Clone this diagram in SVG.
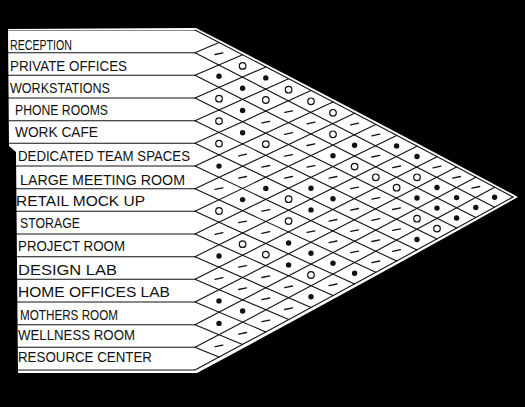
<svg xmlns="http://www.w3.org/2000/svg" width="525" height="407" viewBox="0 0 525 407">
<style>
.ln{stroke:#111;stroke-width:1.1;fill:none;stroke-linecap:round}
.rl{stroke:#111;stroke-width:1.1;fill:none}
.lb{font-family:"Liberation Sans",Arial,sans-serif;font-size:15.5px;fill:#111}
.dot{fill:#111}
.oc{fill:#fff;stroke:#111;stroke-width:1.2}
.ds{stroke:#111;stroke-width:1.3;stroke-linecap:round}
</style>
<defs>
<circle id="f" r="2.7" class="dot"/>
<circle id="o" r="3.3" class="oc"/>
<line id="m" x1="-3.9" y1="0.8" x2="3.9" y2="-0.8" class="ds"/>
</defs>
<rect width="525" height="407" fill="#000"/>
<path id="paper" d="M8,29 L196,28 Q378,121.5 518,197 Q378,275.5 197,373 L18,373 L16,152 L9,146 Z" fill="#fff"/>
<line x1="8" y1="30.5" x2="195" y2="30.5" stroke="#888" stroke-width="1"/>

<g id="rows">
<g id="row-reception"><text class="lb" x="10" y="50" textLength="62" lengthAdjust="spacingAndGlyphs">RECEPTION</text><line class="rl" x1="8" y1="52.7" x2="195" y2="52.7"/></g>
<g id="row-private-offices"><text class="lb" x="10" y="71" textLength="117" lengthAdjust="spacingAndGlyphs">PRIVATE OFFICES</text><line class="rl" x1="8" y1="75.3" x2="195" y2="75.3"/></g>
<g id="row-workstations"><text class="lb" x="10" y="93" textLength="100" lengthAdjust="spacingAndGlyphs">WORKSTATIONS</text><line class="rl" x1="8" y1="98" x2="195" y2="98"/></g>
<g id="row-phone-rooms"><text class="lb" x="15" y="115" textLength="93" lengthAdjust="spacingAndGlyphs">PHONE ROOMS</text><line class="rl" x1="9" y1="120.7" x2="195" y2="120.7"/></g>
<g id="row-work-cafe"><text class="lb" x="15" y="137" textLength="83" lengthAdjust="spacingAndGlyphs">WORK CAFE</text><line class="rl" x1="9" y1="143.3" x2="195" y2="143.3"/></g>
<g id="row-dedicated-team-spaces"><text class="lb" x="18" y="161" textLength="172" lengthAdjust="spacingAndGlyphs">DEDICATED TEAM SPACES</text><line class="rl" x1="16" y1="166" x2="195" y2="166"/></g>
<g id="row-large-meeting-room"><text class="lb" x="20" y="185" textLength="165" lengthAdjust="spacingAndGlyphs">LARGE MEETING ROOM</text><line class="rl" x1="16" y1="188.7" x2="195" y2="188.7"/></g>
<g id="row-retail-mock-up"><text class="lb" x="16" y="206" textLength="129" lengthAdjust="spacingAndGlyphs">RETAIL MOCK UP</text><line class="rl" x1="16" y1="211.3" x2="195" y2="211.3"/></g>
<g id="row-storage"><text class="lb" x="20" y="228" textLength="60" lengthAdjust="spacingAndGlyphs">STORAGE</text><line class="rl" x1="16" y1="234" x2="195" y2="234"/></g>
<g id="row-project-room"><text class="lb" x="18" y="251" textLength="107" lengthAdjust="spacingAndGlyphs">PROJECT ROOM</text><line class="rl" x1="16" y1="256.7" x2="195" y2="256.7"/></g>
<g id="row-design-lab"><text class="lb" x="18" y="275" textLength="99" lengthAdjust="spacingAndGlyphs">DESIGN LAB</text><line class="rl" x1="17" y1="279.3" x2="195" y2="279.3"/></g>
<g id="row-home-offices-lab"><text class="lb" x="18" y="297" textLength="152" lengthAdjust="spacingAndGlyphs">HOME OFFICES LAB</text><line class="rl" x1="17" y1="302" x2="195" y2="302"/></g>
<g id="row-mothers-room"><text class="lb" x="20" y="320" textLength="98" lengthAdjust="spacingAndGlyphs">MOTHERS ROOM</text><line class="rl" x1="17" y1="324.7" x2="195" y2="324.7"/></g>
<g id="row-wellness-room"><text class="lb" x="18" y="340" textLength="117" lengthAdjust="spacingAndGlyphs">WELLNESS ROOM</text><line class="rl" x1="17" y1="347.3" x2="195" y2="347.3"/></g>
<g id="row-resource-center"><text class="lb" x="18" y="362" textLength="134" lengthAdjust="spacingAndGlyphs">RESOURCE CENTER</text><line class="rl" x1="18" y1="370" x2="195" y2="370"/></g>
</g>

<g id="connectors">
<path class="ln" d="M195,30 Q376.5,124.3 513,197"/>
<path class="ln" d="M195,52.7 Q364.4,139.4 494.6,207.2"/>
<path class="ln" d="M195,75.3 Q352.3,154.6 475.8,217.6"/>
<path class="ln" d="M195,98 Q340.2,170 456.6,228.1"/>
<path class="ln" d="M195,120.7 Q328.1,185.6 437,238.9"/>
<path class="ln" d="M195,143.3 Q316,201.4 417,249.9"/>
<path class="ln" d="M195,166 Q303.9,217.4 396.6,261"/>
<path class="ln" d="M195,188.7 Q291.8,233.6 375.8,272.3"/>
<path class="ln" d="M195,211.3 Q279.7,250 354.6,283.9"/>
<path class="ln" d="M195,234 Q267.6,266.5 333,295.6"/>
<path class="ln" d="M195,256.7 Q255.5,283.3 311,307.5"/>
<path class="ln" d="M195,279.3 Q243.4,300.3 288.6,319.6"/>
<path class="ln" d="M195,302 Q231.3,317.4 265.8,331.9"/>
<path class="ln" d="M195,324.7 Q219.2,334.7 242.6,344.4"/>
<path class="ln" d="M195,347.3 Q207.1,352.3 219,357.1"/>
<path class="ln" d="M195,52.7 Q207.1,47.5 219,42.5"/>
<path class="ln" d="M195,75.3 Q219.2,64.9 242.6,54.8"/>
<path class="ln" d="M195,98 Q231.3,82 265.8,66.9"/>
<path class="ln" d="M195,120.7 Q243.4,99 288.6,78.8"/>
<path class="ln" d="M195,143.3 Q255.5,115.7 311,90.5"/>
<path class="ln" d="M195,166 Q267.6,132.3 333,102"/>
<path class="ln" d="M195,188.7 Q279.7,148.6 354.6,113.3"/>
<path class="ln" d="M195,211.3 Q291.8,164.8 375.8,124.5"/>
<path class="ln" d="M195,234 Q303.9,180.8 396.6,135.4"/>
<path class="ln" d="M195,256.7 Q316,196.6 417,146.2"/>
<path class="ln" d="M195,279.3 Q328.1,212.2 437,156.7"/>
<path class="ln" d="M195,302 Q340.2,227.6 456.6,167.1"/>
<path class="ln" d="M195,324.7 Q352.3,242.8 475.8,177.2"/>
<path class="ln" d="M195,347.3 Q364.4,257.8 494.6,187.2"/>
<path class="ln" d="M195,370 Q376.5,272.7 513,197"/>
</g>

<g id="cells">
<use href="#m" x="219" y="53.7"/>
<use href="#f" x="219" y="76.2"/>
<use href="#o" x="219" y="98.7"/>
<use href="#o" x="219" y="121.1"/>
<use href="#o" x="219" y="143.6"/>
<use href="#f" x="219" y="166.1"/>
<use href="#m" x="219" y="188.6"/>
<use href="#o" x="219" y="211"/>
<use href="#m" x="219" y="233.5"/>
<use href="#f" x="219" y="256"/>
<use href="#m" x="219" y="278.5"/>
<use href="#f" x="219" y="300.9"/>
<use href="#f" x="219" y="323.4"/>
<use href="#m" x="219" y="345.9"/>

<use href="#o" x="242.6" y="65.9"/>
<use href="#f" x="242.6" y="88.2"/>
<use href="#f" x="242.6" y="110.5"/>
<use href="#f" x="242.6" y="132.8"/>
<use href="#m" x="242.6" y="155"/>
<use href="#m" x="242.6" y="177.3"/>
<use href="#f" x="242.6" y="199.6"/>
<use href="#m" x="242.6" y="221.9"/>
<use href="#o" x="242.6" y="244.2"/>
<use href="#m" x="242.6" y="266.4"/>
<use href="#m" x="242.6" y="288.7"/>
<use href="#f" x="242.6" y="311"/>
<use href="#m" x="242.6" y="333.3"/>

<use href="#f" x="265.8" y="77.9"/>
<use href="#o" x="265.8" y="100"/>
<use href="#m" x="265.8" y="122.1"/>
<use href="#o" x="265.8" y="144.2"/>
<use href="#m" x="265.8" y="166.3"/>
<use href="#f" x="265.8" y="188.4"/>
<use href="#m" x="265.8" y="210.4"/>
<use href="#m" x="265.8" y="232.5"/>
<use href="#o" x="265.8" y="254.6"/>
<use href="#m" x="265.8" y="276.7"/>
<use href="#m" x="265.8" y="298.8"/>
<use href="#m" x="265.8" y="320.9"/>

<use href="#o" x="288.6" y="89.7"/>
<use href="#m" x="288.6" y="111.6"/>
<use href="#m" x="288.6" y="133.5"/>
<use href="#m" x="288.6" y="155.4"/>
<use href="#m" x="288.6" y="177.3"/>
<use href="#o" x="288.6" y="199.2"/>
<use href="#o" x="288.6" y="221.1"/>
<use href="#f" x="288.6" y="243"/>
<use href="#f" x="288.6" y="264.9"/>
<use href="#m" x="288.6" y="286.8"/>
<use href="#m" x="288.6" y="308.7"/>

<use href="#o" x="311" y="101.3"/>
<use href="#m" x="311" y="123"/>
<use href="#m" x="311" y="144.7"/>
<use href="#m" x="311" y="166.4"/>
<use href="#f" x="311" y="188.2"/>
<use href="#f" x="311" y="209.9"/>
<use href="#m" x="311" y="231.6"/>
<use href="#f" x="311" y="253.3"/>
<use href="#o" x="311" y="275"/>
<use href="#f" x="311" y="296.7"/>

<use href="#o" x="333" y="112.8"/>
<use href="#o" x="333" y="134.3"/>
<use href="#f" x="333" y="155.8"/>
<use href="#m" x="333" y="177.3"/>
<use href="#f" x="333" y="198.8"/>
<use href="#m" x="333" y="220.3"/>
<use href="#m" x="333" y="241.8"/>
<use href="#f" x="333" y="263.3"/>
<use href="#m" x="333" y="284.8"/>

<use href="#m" x="354.6" y="124"/>
<use href="#f" x="354.6" y="145.3"/>
<use href="#o" x="354.6" y="166.6"/>
<use href="#m" x="354.6" y="187.9"/>
<use href="#m" x="354.6" y="209.3"/>
<use href="#m" x="354.6" y="230.6"/>
<use href="#m" x="354.6" y="251.9"/>
<use href="#f" x="354.6" y="273.2"/>

<use href="#m" x="375.8" y="135"/>
<use href="#m" x="375.8" y="156.2"/>
<use href="#o" x="375.8" y="177.3"/>
<use href="#m" x="375.8" y="198.4"/>
<use href="#m" x="375.8" y="219.5"/>
<use href="#m" x="375.8" y="240.7"/>
<use href="#m" x="375.8" y="261.8"/>

<use href="#f" x="396.6" y="145.9"/>
<use href="#m" x="396.6" y="166.8"/>
<use href="#o" x="396.6" y="187.7"/>
<use href="#m" x="396.6" y="208.7"/>
<use href="#m" x="396.6" y="229.6"/>
<use href="#m" x="396.6" y="250.5"/>

<use href="#f" x="417" y="156.5"/>
<use href="#o" x="417" y="177.3"/>
<use href="#f" x="417" y="198"/>
<use href="#o" x="417" y="218.7"/>
<use href="#f" x="417" y="239.5"/>

<use href="#m" x="437" y="167"/>
<use href="#f" x="437" y="187.5"/>
<use href="#f" x="437" y="208.1"/>
<use href="#o" x="437" y="228.6"/>

<use href="#m" x="456.6" y="177.3"/>
<use href="#f" x="456.6" y="197.6"/>
<use href="#f" x="456.6" y="218"/>

<use href="#m" x="475.8" y="187.3"/>
<use href="#f" x="475.8" y="207.5"/>

<use href="#f" x="494.6" y="197.2"/>
</g>
</svg>
